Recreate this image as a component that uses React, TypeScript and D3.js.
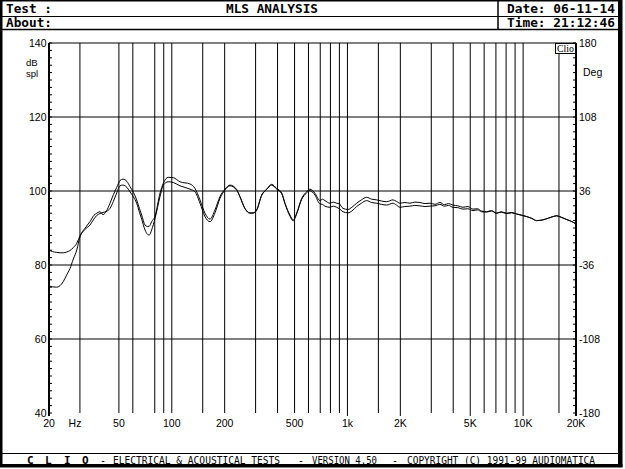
import React from 'react';
import * as d3 from 'd3';

// ---- data ----
const freqs = [
  20, 21, 22.1, 23.1, 24.1, 25.2, 26.3, 27.5, 28.8, 30, 32, 34.2, 36, 37.4, 39, 40.6, 42.5, 44.5, 46.5, 48.6,
  50.7, 52.7, 55.5, 57.8, 60.5, 63.1, 65.5, 67.4, 70.4, 72.7, 74.5, 76.8, 80.3, 85.7, 89.5, 95.5, 102, 111.3,
  127, 135.5, 144.7, 154.5, 165, 176.2, 188.1, 200.8, 214.5, 234.2, 244.4, 261, 278.6, 290, 304.2, 324.8,
  346.8, 370.2, 395.3, 422.1, 440.8, 470.6, 491.5, 513.8, 548.6, 585.8, 611.7, 653.1, 697.4, 720, 744.7,
  795.2, 830, 868.1, 900, 942.8, 1006.6, 1060, 1128.5, 1200, 1286.5, 1370, 1466.5, 1560, 1671.5, 1815.6,
  1900, 1989, 2120, 2267, 2420, 2585, 2760, 2947, 3150, 3360, 3560, 3760, 3985, 4250, 4542, 4850, 5178,
  5500, 5800, 6196, 6600, 7064, 7500, 8053, 8600, 9181, 9800, 10466, 11200, 11932, 12963, 14000, 14838,
  15517, 16500, 17690, 19000, 20000,
];

const splA = [
  84.0, 83.6, 83.4, 83.3, 83.3, 83.5, 83.9, 84.7, 85.9, 87.8, 89.6, 90.8, 92.4, 93.4, 93.9, 94.2, 94.5, 95.3, 97.2, 99.5,
  101.4, 101.6, 101.0, 99.8, 98.4, 96.7, 94.2, 92.4, 89.5, 88.3, 88.1, 89.5, 92.6, 98.5, 101.6, 102.5, 102.3, 101.4,
  100.5, 99.8, 96.7, 93.1, 91.7, 94.1, 98.0, 100.3, 101.4, 100.2, 98.4, 95.2, 94.0, 94.0, 94.8, 98.8,
  100.4, 101.6, 100.5, 99.3, 96.6, 93.2, 91.9, 93.8, 97.7, 99.5, 100.1, 98.9, 96.5, 96.4, 95.9,
  95.6, 95.9, 95.6, 95.2, 94.4, 94.1, 94.6, 95.8, 96.7, 97.4, 96.9, 96.7, 96.4, 96.2, 96.7,
  96.2, 95.6, 95.8, 95.9, 96.1, 96.0, 95.8, 95.9, 96.0, 96.4, 95.9, 96.1, 95.6, 95.5, 95.1, 95.2, 94.7,
  94.9, 94.4, 94.3, 94.6, 94.0, 94.3, 93.9, 94.1, 93.8, 93.4, 93.1, 92.6, 92.0, 92.2, 92.7, 93.1,
  93.3, 92.9, 92.3, 91.7, 91.1,
];

const splB = [
  74.3, 74.1, 74.0, 74.4, 75.5, 77.3, 79.0, 81.6, 84.1, 87.6, 89.9, 91.7, 93.4, 94.0, 94.4, 93.6, 94.6, 96.7, 99.0, 101.0,
  102.8, 103.2, 102.6, 101.2, 99.6, 97.6, 95.2, 93.5, 90.8, 90.4, 90.5, 91.7, 93.2, 99.4, 102.1, 103.7, 103.6, 102.5,
  101.9, 100.7, 97.6, 94.0, 92.4, 94.9, 98.5, 100.5, 101.6, 100.4, 98.5, 95.3, 94.1, 94.1, 94.9, 98.9,
  100.5, 101.8, 100.7, 99.5, 96.7, 93.5, 92.2, 94.0, 98.0, 99.8, 100.5, 99.4, 97.4, 97.8, 97.4,
  96.7, 97.0, 96.7, 96.5, 95.3, 95.0, 95.6, 96.7, 97.6, 98.3, 97.8, 97.6, 97.3, 97.1, 97.6,
  97.2, 96.7, 96.9, 96.7, 97.0, 96.9, 96.6, 96.7, 96.4, 96.9, 96.3, 96.6, 96.2, 96.0, 95.6, 95.8, 95.1,
  95.2, 94.6, 94.4, 94.7, 94.0, 94.4, 94.0, 94.2, 93.8, 93.5, 93.1, 92.6, 92.0, 92.2, 92.7, 93.1,
  93.3, 92.9, 92.3, 91.7, 91.1,
];

const gridFreqs = [30, 50, 60, 80, 90, 100, 150, 200, 300, 400, 500, 600, 700, 800, 900, 1000, 1500, 2000,
  3000, 4000, 5000, 6000, 7000, 8000, 9000, 10000, 16000];
const xLabelFreqs = [20, 50, 100, 200, 500, 1000, 2000, 5000, 10000, 20000];
const xLabelTexts = ['20', '50', '100', '200', '500', '1k', '2K', '5K', '10K', '20K'];
const xSmallTickFreqs = [20, 1000, 2000, 5000, 10000, 20000];
const splTicks = [140, 120, 100, 80, 60, 40];
const degTicks = [180, 108, 36, -36, -108, -180];

const headerTitle = 'MLS ANALYSIS';
const headerDate = 'Date: 06-11-14';
const headerTime = 'Time: 21:12:46';

const W = 625;
const H = 469;
const L = 49, R = 576, T = 43, B = 413;

export default function App() {
  const x = d3.scaleLog().domain([20, 20000]).range([L, R]);
  const y = d3.scaleLinear().domain([40, 140]).range([B, T]);
  const yDeg = d3.scaleLinear().domain([-180, 180]).range([B, T]);

  const line = d3.line<number>()
    .x((_, i) => x(freqs[i]))
    .y((d) => y(d))
    .curve(d3.curveMonotoneX);

  const minor = d3.range(40, 141, 2);
  const mono = "'DejaVu Sans Mono', monospace";
  const sans = "'Liberation Sans', Arial, sans-serif";

  return (
    <svg width={W} height={H} viewBox={`0 0 ${W} ${H}`}
      style={{ position: 'absolute', left: 0, top: 0, display: 'block', background: '#fff' }}>
      <rect x={0} y={0} width={W} height={H} fill="#fff" />

      {/* outer frame */}
      <rect x={0} y={0} width={2.5} height={467} fill="#000" />
      <rect x={0} y={0} width={622} height={1.5} fill="#000" />
      <rect x={618} y={0} width={4.5} height={467} fill="#000" />
      <rect x={0} y={464} width={622.5} height={3.5} fill="#000" />

      {/* header */}
      <line x1={2} x2={618} y1={16.5} y2={16.5} stroke="#000" strokeWidth={1} />
      <line x1={2} x2={618} y1={29.5} y2={29.5} stroke="#000" strokeWidth={1.5} />
      <line x1={498} x2={498} y1={1} y2={29.5} stroke="#000" strokeWidth={1.5} />
      <g fontFamily={mono} fontWeight="bold" fontSize={12} fill="#000">
        <text x={6} y={13} textLength={46} lengthAdjust="spacingAndGlyphs">Test :</text>
        <text x={226} y={13} textLength={92} lengthAdjust="spacingAndGlyphs">{headerTitle}</text>
        <text x={507} y={13} textLength={108} lengthAdjust="spacingAndGlyphs">{headerDate}</text>
        <text x={6} y={27} textLength={46} lengthAdjust="spacingAndGlyphs">About:</text>
        <text x={507} y={27} textLength={108} lengthAdjust="spacingAndGlyphs">{headerTime}</text>
      </g>

      {/* grid */}
      {gridFreqs.map((f) => (
        <line key={'g' + f} x1={x(f)} x2={x(f)} y1={T} y2={B} stroke="#000" strokeWidth={1} />
      ))}
      {splTicks.filter((v) => v !== 40).map((v) => (
        <line key={'h' + v} x1={L} x2={R} y1={y(v)} y2={y(v)} stroke="#000" strokeWidth={1} />
      ))}
      {/* axes */}
      <line x1={L} x2={L} y1={T} y2={B + 3} stroke="#000" strokeWidth={2} />
      <line x1={R} x2={R} y1={T} y2={B + 3} stroke="#000" strokeWidth={2} />
      {minor.map((v) => (
        <g key={'m' + v}>
          <line x1={L} x2={L + 3} y1={y(v)} y2={y(v)} stroke="#000" strokeWidth={1} />
          <line x1={R - 3} x2={R} y1={y(v)} y2={y(v)} stroke="#000" strokeWidth={1} />
        </g>
      ))}
      {xSmallTickFreqs.map((f) => (
        <line key={'t' + f} x1={x(f)} x2={x(f)} y1={B} y2={B + 3} stroke="#000" strokeWidth={1} />
      ))}

      {/* Clio box */}
      <rect x={555.5} y={43.5} width={20} height={10} fill="#fff" stroke="#000" strokeWidth={1} />
      <text x={557} y={52} fontFamily="'Liberation Serif', serif" fontSize={10} fill="#000"
        textLength={17} lengthAdjust="spacingAndGlyphs">Clio</text>

      {/* curves */}
      <path d={line(splA) || ''} fill="none" stroke="#000" strokeWidth={1} />
      <path d={line(splB) || ''} fill="none" stroke="#000" strokeWidth={1} />

      {/* y labels */}
      <g fontFamily={sans} fontSize={10.5} fill="#000">
        {splTicks.map((v) => (
          <text key={'yl' + v} x={46.5} y={y(v)} dy="0.35em" textAnchor="end">{v}</text>
        ))}
        {degTicks.map((v) => (
          <text key={'yr' + v} x={579} y={yDeg(v)} dy="0.35em" textAnchor="start">{v}</text>
        ))}
        <text x={583} y={76}>Deg</text>
        {xLabelFreqs.map((f, i) => (
          <text key={'xl' + f} x={x(f)} y={427} textAnchor="middle">{xLabelTexts[i]}</text>
        ))}
        <text x={75} y={427} textAnchor="middle">Hz</text>
      </g>
      <g fontFamily={sans} fontSize={9.5} fill="#000">
        <text x={26} y={66}>dB</text>
        <text x={26} y={76.5}>spl</text>
      </g>

      {/* footer */}
      <line x1={2} x2={618} y1={453.5} y2={453.5} stroke="#000" strokeWidth={1} />
      <g fontFamily={mono} fontSize={10} fill="#000">
        <text x={27} y={463.5} fontWeight="bold" fontSize={11}>C</text>
        <text x={45} y={463.5} fontWeight="bold" fontSize={11}>L</text>
        <text x={64} y={463.5} fontWeight="bold" fontSize={11}>I</text>
        <text x={82} y={463.5} fontWeight="bold" fontSize={11}>O</text>
        <text x={100} y={463.5}>-</text>
        <text x={113} y={463.5} textLength={167} lengthAdjust="spacingAndGlyphs">ELECTRICAL &amp; ACOUSTICAL TESTS</text>
        <text x={298} y={463.5}>-</text>
        <text x={312} y={463.5} textLength={65} lengthAdjust="spacingAndGlyphs">VERSION 4.50</text>
        <text x={392} y={463.5}>-</text>
        <text x={407} y={463.5} textLength={188} lengthAdjust="spacingAndGlyphs">COPYRIGHT (C) 1991-99 AUDIOMATICA</text>
      </g>
    </svg>
  );
}
